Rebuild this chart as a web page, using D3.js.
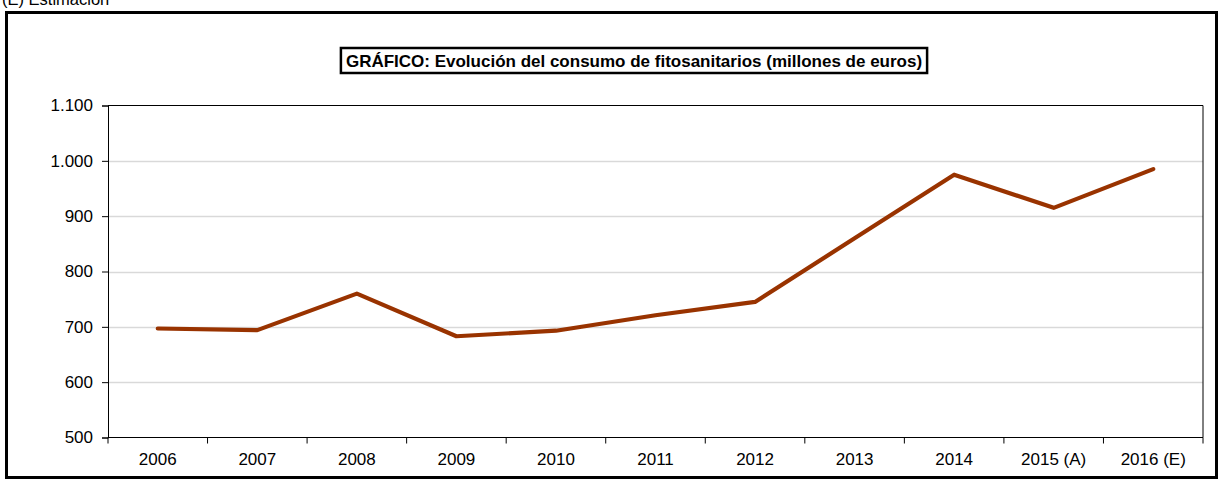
<!DOCTYPE html>
<html><head><meta charset="utf-8">
<script src="https://cdn.jsdelivr.net/npm/d3@7"></script>
<style>body{margin:0;background:#fff;}svg{display:block;font-family:"Liberation Sans",Arial,sans-serif;}</style>
</head><body>
<svg id="c" width="1219" height="480"></svg>
<script>
const categories = ["2006","2007","2008","2009","2010","2011","2012","2013","2014","2015 (A)","2016 (E)"];
const values = [697, 694, 760, 683, 693, 721, 745, 860, 975, 915, 985];
const yTicks = [500,600,700,800,900,1000,1100];
const titleText = "GRÁFICO: Evolución del consumo de fitosanitarios (millones de euros)";
const noteText = "(E) Estimación";

const svg = d3.select("#c");
const fmt = v => d3.format(",")(v).replace(/,/g, ".");
const L = 108, R = 1203, T = 105.5, B = 437.5;
const x = d3.scaleBand().domain(categories).range([L, R]);
const y = d3.scaleLinear().domain([500, 1100]).range([B, T]);

svg.append("text").attr("x", 2).attr("y", 5).attr("font-size", 16.5).text(noteText);
svg.append("rect").attr("x", 6.5).attr("y", 12.5).attr("width", 1210).attr("height", 465)
  .attr("fill", "none").attr("stroke", "#000").attr("stroke-width", 3);

// title box
const tg = svg.append("g");
const tt = tg.append("text").attr("x", 634).attr("y", 67).attr("text-anchor", "middle")
  .attr("font-size", 17).attr("font-weight", "bold").text(titleText);
const bb = tt.node().getBBox();
tg.insert("rect", "text").attr("x", bb.x - 5).attr("y", 48).attr("width", bb.width + 10).attr("height", 25)
  .attr("fill", "#fff").attr("stroke", "#000").attr("stroke-width", 2.5);

// gridlines
svg.append("g").selectAll("line").data(yTicks.filter(d => d > 500 && d < 1100)).join("line")
  .attr("x1", L).attr("x2", R).attr("y1", d => Math.round(y(d)) + 0.5).attr("y2", d => Math.round(y(d)) + 0.5)
  .attr("stroke", "#d9d9d9").attr("stroke-width", 1.3);
// plot frame top & right
svg.append("line").attr("x1", L).attr("x2", R).attr("y1", T).attr("y2", T).attr("stroke", "#000");
svg.append("line").attr("x1", R).attr("x2", R).attr("y1", T).attr("y2", B).attr("stroke", "#000");

// y axis
const ya = svg.append("g").attr("transform", `translate(${L},0)`)
  .call(d3.axisLeft(y).tickValues(yTicks).tickFormat(fmt).tickSize(6).tickPadding(9));
ya.attr("font-size", 17).attr("font-family", null);
ya.select(".domain").attr("stroke", "#000");
ya.selectAll("text").attr("fill", "#000");

// x axis with ticks at band boundaries
const xa = svg.append("g").attr("transform", `translate(0,${B})`);
xa.append("line").attr("x1", L).attr("x2", R).attr("stroke", "#000");
const bounds = categories.map(c => x(c)).concat([R]);
xa.selectAll("line.t").data(bounds).join("line").attr("class", "t")
  .attr("x1", d => d).attr("x2", d => d).attr("y1", 0).attr("y2", 6).attr("stroke", "#000");
xa.selectAll("text").data(categories).join("text")
  .attr("x", d => x(d) + x.bandwidth() / 2).attr("y", 27).attr("text-anchor", "middle")
  .attr("font-size", 17).text(d => d);

// line
const line = d3.line().x((d, i) => x(categories[i]) + x.bandwidth() / 2).y(d => y(d));
svg.append("path").datum(values).attr("d", line).attr("fill", "none")
  .attr("stroke", "#993300").attr("stroke-width", 4.2).attr("stroke-linecap", "round").attr("stroke-linejoin", "round");
</script>
</body></html>
